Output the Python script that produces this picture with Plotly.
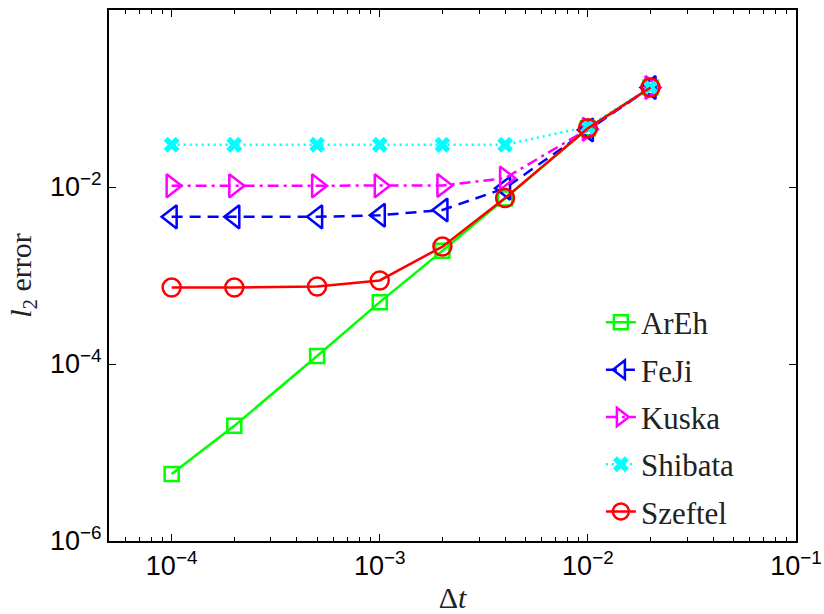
import plotly.graph_objects as go

# time step sizes
dt = [1e-4, 2e-4, 5e-4, 1e-3, 2e-3, 4e-3, 1e-2, 2e-2]

# l2 errors for each scheme
err_areh = [5.7e-6, 2.0e-5, 1.23e-4, 5.0e-4, 1.9e-3, 7.4e-3, 4.6e-2, 1.33e-1]
err_feji = [4.6e-3, 4.6e-3, 4.6e-3, 4.8e-3, 5.5e-3, 9.7e-3, 4.4e-2, 1.33e-1]
err_kuska = [1.03e-2, 1.03e-2, 1.03e-2, 1.03e-2, 1.04e-2, 1.26e-2, 4.5e-2, 1.33e-1]
err_shibata = [3.0e-2, 3.0e-2, 3.0e-2, 3.0e-2, 3.0e-2, 3.0e-2, 4.8e-2, 1.34e-1]
err_szeftel = [7.3e-4, 7.3e-4, 7.5e-4, 8.8e-4, 2.12e-3, 7.5e-3, 4.6e-2, 1.33e-1]

names = ["ArEh", "FeJi", "Kuska", "Shibata", "Szeftel"]

x_ticks = [1e-4, 1e-3, 1e-2, 1e-1]
x_ticktext = ["10<sup>−4</sup>", "10<sup>−3</sup>", "10<sup>−2</sup>", "10<sup>−1</sup>"]
y_ticks = [1e-6, 1e-4, 1e-2]
y_ticktext = ["10<sup>−6</sup>", "10<sup>−4</sup>", "10<sup>−2</sup>"]

SERIF = "Liberation Serif"
SANS = "Liberation Sans"

# values, colour, dash pattern, marker symbol, marker size, marker outline width
series = [
    (err_areh, "#00ff00", "solid", "square-open", 14, 2.5),
    (err_feji, "#0000ff", "11px,7px", "triangle-left-open", 20, 2.5),
    (err_kuska, "#ff00ff", "11px,5px,3px,5px", "triangle-right-open", 20, 2.5),
    (err_shibata, "#00ffff", "2px,4px", "x", 14, 0),
    (err_szeftel, "#ff0000", "solid", "circle-open", 18, 2.5),
]

fig = go.Figure()
for name, (vals, color, dash, symbol, size, mlw) in zip(names, series):
    fig.add_trace(go.Scatter(
        x=dt, y=vals, name=name, mode="lines+markers",
        line=dict(color=color, width=2.5, dash=dash),
        marker=dict(symbol=symbol, size=size, color=color,
                    line=dict(color=color, width=mlw)),
        legendgroup=name,
    ))

# minor ticks at 2..9 of every decade
minor_x = [m * 10.0 ** e for e in range(-5, -1) for m in range(2, 10)]
minor_x = [v for v in minor_x if 5e-5 <= v <= 1e-1]

fig.update_layout(
    width=824, height=614,
    margin=dict(l=109, r=28, t=10, b=73),
    plot_bgcolor="white", paper_bgcolor="white",
    showlegend=True,
    font=dict(family=SERIF, size=29, color="#222222"),
    legend=dict(
        x=0.716, y=0.462, xanchor="left", yanchor="top",
        bgcolor="rgba(0,0,0,0)",
        font=dict(family=SERIF, size=31, color="#222222"),
        tracegroupgap=4,
    ),
)

fig.update_xaxes(
    type="log", range=[-4.30103, -1], automargin=False,
    tickmode="array", tickvals=x_ticks, ticktext=x_ticktext,
    tickfont=dict(family=SANS, size=27, color="black"),
    ticks="inside", ticklen=7, tickwidth=1, tickcolor="black",
    minor=dict(tickmode="array", tickvals=minor_x, ticks="inside",
               ticklen=4, tickwidth=1, tickcolor="black", showgrid=False),
    showline=True, linecolor="black", linewidth=2, mirror="allticks",
    showgrid=False, zeroline=False,
    title=dict(text="Δ<i>t</i>", font=dict(family=SERIF, size=30, color="#222222"),
               standoff=18),
)
fig.update_yaxes(
    type="log", range=[-6, 0], automargin=False,
    tickmode="array", tickvals=y_ticks, ticktext=y_ticktext,
    tickfont=dict(family=SANS, size=27, color="black"),
    ticks="inside", ticklen=7, tickwidth=1, tickcolor="black",
    showline=True, linecolor="black", linewidth=2, mirror="allticks",
    showgrid=False, zeroline=False,
    title=dict(text="<i>l</i><sub>2</sub> error",
               font=dict(family=SERIF, size=30, color="#222222"),
               standoff=10),
)

fig.write_html("out.html")
